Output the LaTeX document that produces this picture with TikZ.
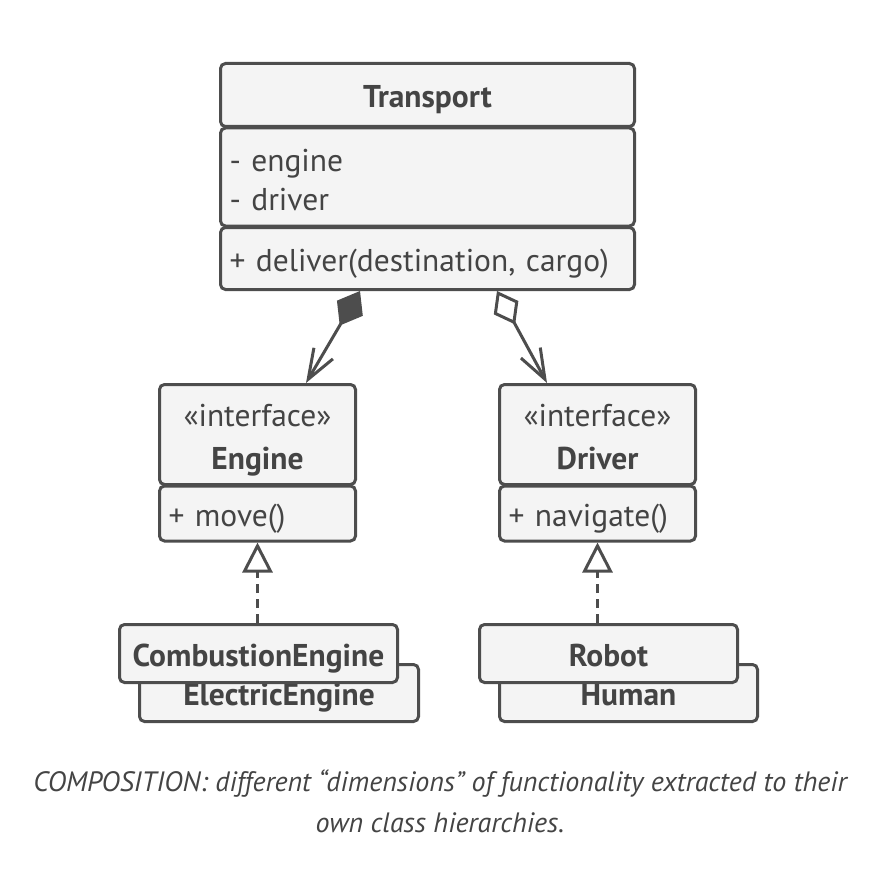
\documentclass[tikz,border=0pt]{standalone}
\usepackage{fontspec}
\setmainfont{PT Sans}
\usepackage{xcolor}
\usetikzlibrary{positioning,calc,arrows.meta}
\definecolor{umlline}{HTML}{4D4D4D}
\definecolor{umlfill}{HTML}{F4F4F4}
\definecolor{umltext}{HTML}{444444}

\begin{document}
\begin{tikzpicture}[x=1pt, y=-1pt,
    box/.style={rectangle, draw=umlline, fill=umlfill, line width=3pt, rounded corners=5pt, text=umltext, inner sep=0pt, text height=33pt, font=\fontsize{31.5}{39}\selectfont},
    boldbox/.style={box, text depth=7.5pt, font=\fontsize{31.5}{39}\selectfont\bfseries},
    section/.style={box, align=left, inner xsep=9pt},
    comp/.style={draw=umlline, line width=3pt, {Diamond[length=40pt,width=30pt]}-{Straight Barb[length=30pt,width=22pt]}},
    aggr/.style={draw=umlline, line width=3pt, {Diamond[open,length=38pt,width=28pt]}-{Straight Barb[length=30pt,width=22pt]}},
    real/.style={draw=umlline, line width=3pt, dash pattern=on 9pt off 6pt, -{Triangle[open,length=30pt,width=30pt]}},
    caption/.style={align=center, text=umltext, font=\fontsize{28}{41}\selectfont\itshape}]

    \useasboundingbox (0,0) rectangle (894,880);

    % Class Transport with its fields and method
    \node [boldbox, minimum width=414pt, minimum height=63pt] (ttitle) at (427.5,95) {Transport};
    \node [section, text height=29pt, text width=396pt, minimum height=98pt, below=-1.5pt of ttitle] (tattr) {
        - engine \\
        - driver
    };
    \node [section, text width=396pt, minimum height=62pt, below=-1.5pt of tattr] (tmeth) {
        + deliver(destination, cargo)
    };

    % Interface Engine
    \node [box, align=center, text width=178pt, minimum width=196pt, minimum height=100pt] (etitle) at (257.5,434.5) {
        «interface» \\[4pt]
        \textbf{Engine}
    };
    \node [section, text width=178pt, minimum height=55pt, below=-1.5pt of etitle] (emeth) {
        + move()
    };

    % Interface Driver
    \node [box, align=center, text width=178pt, minimum width=196pt, minimum height=100pt] (dtitle) at (597.5,434.5) {
        «interface» \\[4pt]
        \textbf{Driver}\vphantom{g}
    };
    \node [section, text width=178pt, minimum height=55pt, below=-1.5pt of dtitle] (dmeth) {
        + navigate()
    };

    % Implementations, the back one first
    \node [boldbox, minimum width=279pt, minimum height=57pt] (electric) at (279,693) {ElectricEngine};
    \node [boldbox, minimum width=278pt, minimum height=58pt] (combust) at (258.5,653.5) {CombustionEngine};
    \node [boldbox, minimum width=258pt, minimum height=57pt] (human) at (628.5,693) {Human};
    \node [boldbox, minimum width=258pt, minimum height=58pt] (robot) at (608.5,653.5) {Robot};

    % Relations
    \draw [comp] ([xshift=141pt]tmeth.south west) -- ([xshift=148pt]etitle.north west);
    \draw [aggr] ([xshift=278pt]tmeth.south west) -- ([xshift=49pt]dtitle.north west);
    \draw [real] (combust.north -| emeth.south) -- (emeth.south);
    \draw [real] (robot.north -| dmeth.south) -- (dmeth.south);

    % Caption
    \node [caption] (cap) at (440,801) {
        COMPOSITION: different “dimensions” of functionality extracted to their \\
        own class hierarchies.
    };
\end{tikzpicture}
\end{document}
